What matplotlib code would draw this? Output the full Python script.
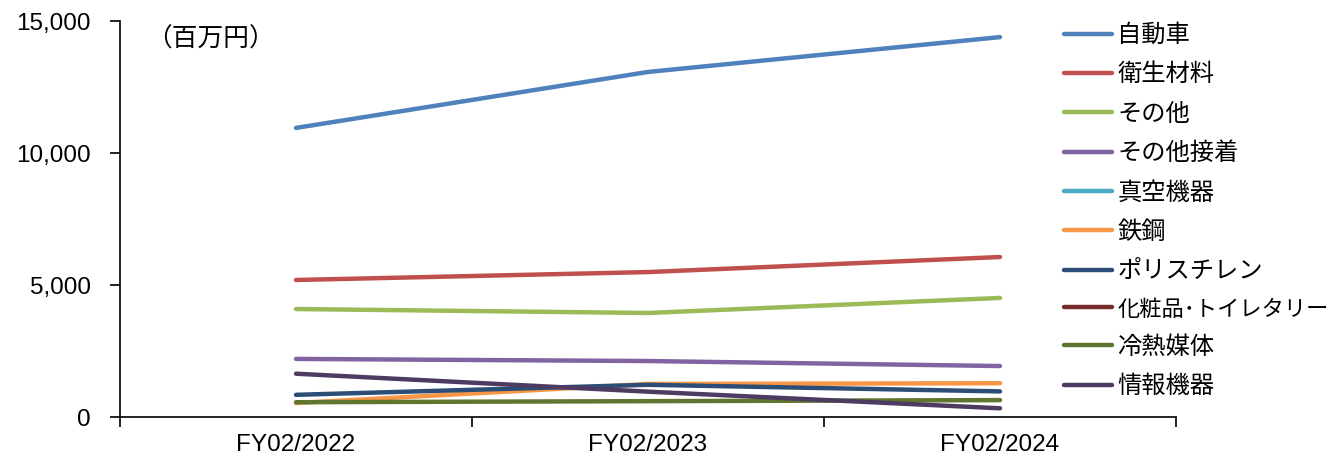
import matplotlib
matplotlib.use("Agg")
import matplotlib.pyplot as plt
import numpy as np

plt.rcParams['font.family'] = ['Liberation Sans', 'Noto Sans CJK JP', 'DejaVu Sans']

years = ["FY02/2022", "FY02/2023", "FY02/2024"]
jidousha = [10950, 13070, 14390]
eisei = [5190, 5490, 6060]
sonota = [4090, 3940, 4510]
sonota_secchaku = [2200, 2120, 1930]
shinku = [np.nan, np.nan, np.nan]
tekko = [530, 1250, 1280]
polystyrene = [840, 1220, 970]
keshohin = [np.nan, np.nan, np.nan]
reinetsu = [560, 600, 640]
joho = [1640, 960, 330]

series = [
    ("自動車", jidousha, "#4F81BD"),
    ("衛生材料", eisei, "#C0504D"),
    ("その他", sonota, "#9BBB59"),
    ("その他接着", sonota_secchaku, "#8064A2"),
    ("真空機器", shinku, "#4BACC6"),
    ("鉄鋼", tekko, "#F79646"),
    ("ポリスチレン", polystyrene, "#2C4D75"),
    ("化粧品･トイレタリー", keshohin, "#772C2A"),
    ("冷熱媒体", reinetsu, "#5F7530"),
    ("情報機器", joho, "#4D3B62"),
]

fig = plt.figure(figsize=(13.39, 4.61), dpi=100)
ax = fig.add_axes([120/1339, 1-417/461, 1056/1339, 396/461])

x = np.arange(len(years))
for name, vals, col in series:
    ax.plot(x, vals, color=col, lw=3.2, label=name, solid_capstyle='round')

ax.set_xlim(-0.5, 2.5)
ax.set_ylim(0, 15000)
ax.set_yticks([0, 5000, 10000, 15000])
ax.set_yticklabels(["0", "5,000", "10,000", "15,000"])
ax.set_xticks([-0.5, 0.5, 1.5, 2.5])
ax.set_xticklabels([])
ax.set_xticks(x, minor=True)
ax.set_xticklabels(years, minor=True)
ax.tick_params(axis='x', which='minor', length=0, pad=12, labelsize=17.5)
ax.tick_params(axis='x', which='major', length=7, width=1.2)
ax.tick_params(axis='y', length=7, width=1.2, labelsize=17.5, pad=14)
for s in ['top', 'right']:
    ax.spines[s].set_visible(False)
for s in ['left', 'bottom']:
    ax.spines[s].set_linewidth(1.2)

ax.text(0.025, 0.985, "（百万円）", transform=ax.transAxes, fontsize=18.5,
        va='top', ha='left', family=['Noto Sans CJK JP'])

leg = ax.legend(loc='upper left', bbox_to_anchor=((1054 - 120) / 1056, 1.022), frameon=False,
                handlelength=2.0, handletextpad=0.2, labelspacing=0.55,
                borderaxespad=0, prop={'family': ['Noto Sans CJK JP'], 'size': 17.5})
for t in leg.get_texts():
    if len(t.get_text()) > 8:
        t.set_fontsize(16)

fig.savefig("out.png", dpi=100)
